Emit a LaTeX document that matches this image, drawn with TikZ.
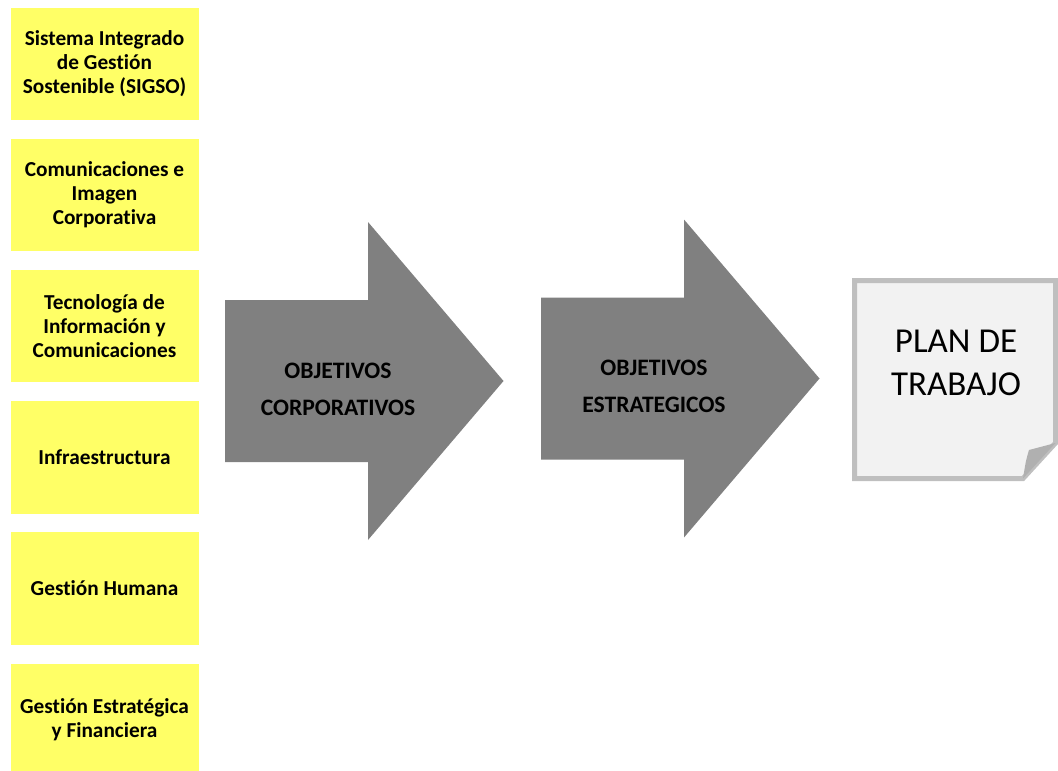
\documentclass[tikz,border=0pt]{standalone}
\usepackage{fontspec}
\setmainfont{Carlito}[Ligatures=NoCommon]
\definecolor{areafill}{HTML}{FFFF66}
\definecolor{arrowfill}{HTML}{808080}
\definecolor{sheetfill}{HTML}{F2F2F2}
\definecolor{sheetline}{HTML}{BFBFBF}
\definecolor{foldfill}{HTML}{B0B0B0}
\tikzset{
  area box/.style={fill=areafill,minimum width=188pt,minimum height=112.5pt,inner sep=0pt,align=center,font=\fontsize{21.3}{24}\selectfont\bfseries},
  flow arrow/.style={fill=arrowfill},
  flow label/.style={align=center,font=\fontsize{23.6}{37}\selectfont\bfseries},
  plan sheet/.style={fill=sheetfill,draw=sheetline,line width=5pt,line join=miter},
  plan fold/.style={fill=foldfill},
  plan label/.style={align=center,font=\fontsize{35}{43}\selectfont}
}
\begin{document}
\begin{tikzpicture}[x=1pt,y=-1pt]
  \useasboundingbox (0,0) rectangle (1058,771);
  \foreach \i/\txt in {0/{Sistema Integrado\\de Gestión\\Sostenible (SIGSO)},1/{Comunicaciones e\\Imagen\\Corporativa},2/{Tecnología de\\Información y\\Comunicaciones},3/Infraestructura,4/Gestión Humana,5/{Gestión Estratégica\\y Financiera}}{
    \node[area box] (area\i) at (104.5,63.75+131.2*\i) {\txt};
  }
  \foreach \dx/\dy/\lbl/\name in {0/0/{OBJETIVOS\\CORPORATIVOS}/corp,316/-2.5/{OBJETIVOS\\ESTRATEGICOS}/estr}{
    \begin{scope}[shift={(\dx,\dy)}]
      \fill[flow arrow] (225,300) -- (368,300) -- (368,222) -- (503.5,381) -- (368,540) -- (368,462) -- (225,462) -- cycle;
      \node[flow label] (\name) at (338,389) {\lbl};
    \end{scope}
  }
  \draw[plan sheet] (854.5,280.5) -- (1055.5,280.5) -- (1055.5,443) -- (1023,478.5) -- (854.5,478.5) -- cycle;
  \fill[plan fold] (1055.5,443) -- (1029,450) .. controls (1026,460) .. (1023,478.5) -- cycle;
  \node[plan label] (plan) at (956,362.5) {PLAN DE\\TRABAJO};
\end{tikzpicture}
\end{document}
